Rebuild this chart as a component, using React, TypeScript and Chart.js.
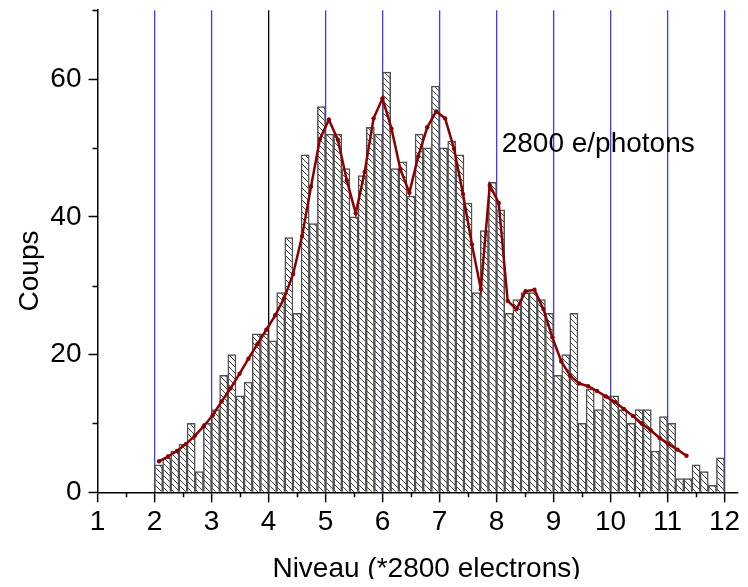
import React, { useEffect, useRef } from 'react';
import { Chart, registerables } from 'chart.js';

Chart.register(...registerables);

// Histogram: bins of width 1/7 starting at 2
const binStart = 2;
const binWidth = 1 / 7;
const counts = [
  4, 5, 6, 7, 10, 3, 10, 12, 17, 20,
  14, 16, 23, 23, 22, 29, 37, 26, 49, 39,
  56, 52, 52, 47, 40, 46, 53, 52, 61, 47,
  48, 43, 52, 50, 59, 50, 51, 49, 42, 29,
  38, 45, 41, 26, 28, 29, 29, 28, 26, 17,
  20, 26, 10, 15, 12, 14, 14, 12, 10, 12,
  12, 6, 11, 10, 2, 2, 4, 3, 1, 5,
];

// Smoothed curve (dark red), sampled on a regular grid
const lineStart = 2.08;
const lineStep = 0.1568;
const lineValues = [
  4.5, 5.2, 6.0, 7.0, 8.2, 9.6, 11.2, 13.2, 15.1, 17.2,
  19.4, 21.5, 23.6, 25.7, 28.2, 31.7, 37.2, 44.4, 51.3, 54.1,
  51.2, 45.3, 40.5, 46.5, 54.3, 57.2, 52.8, 46.9, 43.5, 48.8,
  53.0, 55.3, 54.3, 49.9, 43.3, 36.0, 29.5, 44.6, 42.0, 27.8,
  26.6, 29.2, 29.4, 26.6, 22.5, 19.0, 16.9, 15.8, 15.4, 14.7,
  13.9, 13.1, 12.1, 11.1, 10.0, 9.0, 7.9, 7.0, 6.2, 5.3,
];

const BLUE = '#3c3cff';
const xTicks = [1, 2, 3, 4, 5, 6, 7, 8, 9, 10, 11, 12];
const xGridColors = ['rgba(0,0,0,0)', BLUE, BLUE, '#000000', BLUE, BLUE,
  BLUE, BLUE, BLUE, BLUE, BLUE, BLUE];
const xMinorTicks = [1.5, 2.5, 3.5, 4.5, 5.5, 6.5, 7.5, 8.5, 9.5, 10.5, 11.5];
const yTicks = [0, 20, 40, 60];
const yMinorTicks = [10, 30, 50, 70];
const xMin = 1;
const xMax = 12.232;
const yMin = 0;
const yMax = 70;

const xTitle = 'Niveau (*2800 electrons)';
const yTitle = 'Coups';
const annotationText = '2800 e/photons';
const annotationX = 8.09;
const annotationY = 49.4;

const FONT = "'Liberation Sans', Arial, Helvetica, sans-serif";
const FONT_SIZE = 28;

function makeHatch(): CanvasPattern | string {
  const s = 6;
  const c = document.createElement('canvas');
  c.width = s;
  c.height = s;
  const g = c.getContext('2d');
  if (!g) return '#fff';
  g.fillStyle = '#ffffff';
  g.fillRect(0, 0, s, s);
  g.strokeStyle = '#404040';
  g.lineWidth = 1;
  g.beginPath();
  g.moveTo(0, 0);
  g.lineTo(s, s);
  g.moveTo(-1, s - 1);
  g.lineTo(1, s + 1);
  g.moveTo(s - 1, -1);
  g.lineTo(s + 1, 1);
  g.stroke();
  return g.createPattern(c, 'repeat') || '#fff';
}

const extrasPlugin = {
  id: 'extras',
  afterDraw(chart: any) {
    const { ctx, chartArea } = chart;
    const xs = chart.scales.x;
    const ys = chart.scales.y;
    ctx.save();
    ctx.strokeStyle = '#000';
    ctx.lineWidth = 1.5;
    ctx.beginPath();
    for (const v of xMinorTicks) {
      const px = Math.round(xs.getPixelForValue(v)) + 0.5;
      ctx.moveTo(px, chartArea.bottom);
      ctx.lineTo(px, chartArea.bottom + 5);
    }
    for (const v of yMinorTicks) {
      const py = Math.round(ys.getPixelForValue(v)) + 0.5;
      ctx.moveTo(chartArea.left, py);
      ctx.lineTo(chartArea.left - 5, py);
    }
    ctx.stroke();

    ctx.fillStyle = '#000';
    ctx.font = `${FONT_SIZE}px ${FONT}`;
    ctx.textBaseline = 'alphabetic';

    ctx.textAlign = 'center';
    ctx.fillText(xTitle, 418.5, 569);

    ctx.save();
    ctx.translate(29.5, 263);
    ctx.rotate(-Math.PI / 2);
    ctx.fillText(yTitle, 0, 0);
    ctx.restore();

    ctx.textAlign = 'left';
    ctx.fillText(annotationText, xs.getPixelForValue(annotationX), ys.getPixelForValue(annotationY));
    ctx.restore();
  },
};

export default function App() {
  const ref = useRef<HTMLCanvasElement | null>(null);

  useEffect(() => {
    const canvas = ref.current;
    if (!canvas) return;
    const hatch = makeHatch();
    const tickFont = { family: FONT, size: FONT_SIZE };

    const chart = new Chart(canvas, {
      type: 'bar',
      data: {
        datasets: [
          {
            type: 'line',
            data: lineValues.map((v, i) => ({ x: lineStart + i * lineStep, y: v })),
            borderColor: '#8b0000',
            backgroundColor: '#8b0000',
            borderWidth: 2.5,
            pointRadius: 2.2,
            pointHoverRadius: 2.2,
            pointBorderWidth: 0,
            tension: 0,
            order: 0,
          } as any,
          {
            type: 'bar',
            data: counts.map((v, k) => ({ x: binStart + (k + 0.5) * binWidth, y: v })),
            backgroundColor: hatch as any,
            borderColor: '#505050',
            borderWidth: 1.5,
            barPercentage: 1,
            categoryPercentage: 1,
            order: 1,
          } as any,
        ],
      },
      options: {
        animation: false,
        responsive: false,
        maintainAspectRatio: false,
        layout: { padding: { top: 2, left: 0, right: 0, bottom: 0 } },
        plugins: { legend: { display: false }, tooltip: { enabled: false } },
        scales: {
          x: {
            type: 'linear',
            min: xMin,
            max: xMax,
            offset: false,
            grid: {
              offset: false,
              display: true,
              drawOnChartArea: true,
              drawTicks: true,
              tickLength: 10,
              tickColor: '#000',
              tickWidth: 1.5,
              lineWidth: 1.3,
              color: xGridColors,
            },
            border: { display: true, color: '#000', width: 1.5 },
            ticks: {
              autoSkip: false,
              maxRotation: 0,
              minRotation: 0,
              includeBounds: false,
              font: tickFont,
              color: '#000',
              padding: 3,
            },
            afterBuildTicks: (s: any) => {
              s.ticks = xTicks.map((v) => ({ value: v }));
            },
            afterFit: (s: any) => {
              s.height = 86.7;
              s.paddingLeft = 0;
              s.paddingRight = 0;
            },
          } as any,
          y: {
            type: 'linear',
            min: yMin,
            max: yMax,
            grid: {
              display: true,
              drawOnChartArea: false,
              drawTicks: true,
              tickLength: 9,
              tickColor: '#000',
              tickWidth: 1.5,
            },
            border: { display: true, color: '#000', width: 1.5 },
            ticks: {
              includeBounds: false,
              font: tickFont,
              color: '#000',
              padding: 7,
            },
            afterBuildTicks: (s: any) => {
              s.ticks = yTicks.map((v) => ({ value: v }));
            },
            afterFit: (s: any) => {
              s.width = 89.5;
              s.paddingTop = 0;
              s.paddingBottom = 0;
            },
          } as any,
        },
      },
      plugins: [extrasPlugin as any],
    });

    return () => {
      chart.destroy();
    };
  }, []);

  return (
    <div style={{ width: 732, height: 571 }}>
      <canvas ref={ref} width={732} height={571} style={{ display: 'block', width: 732, height: 571 }} />
    </div>
  );
}
